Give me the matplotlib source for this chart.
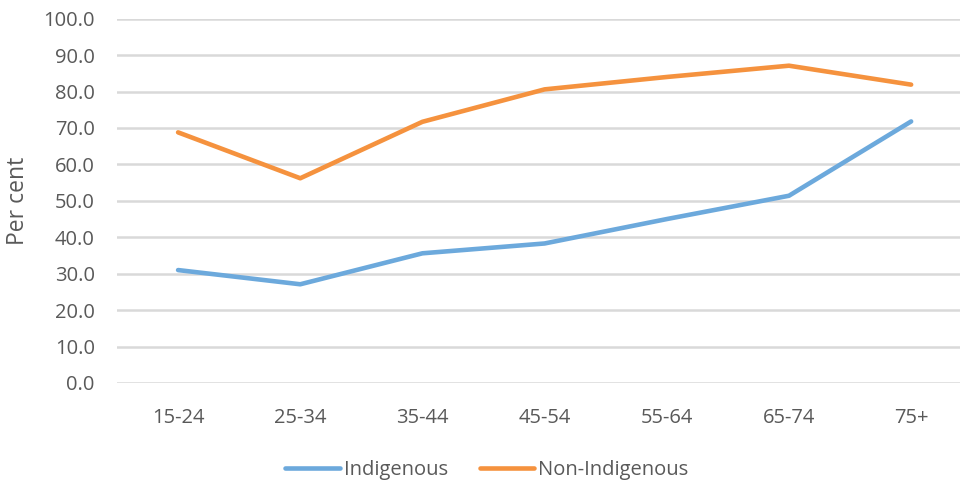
import matplotlib
matplotlib.use("Agg")
import matplotlib.pyplot as plt

age_groups = ["15-24", "25-34", "35-44", "45-54", "55-64", "65-74", "75+"]
indigenous = [31.0, 27.1, 35.6, 38.3, 45.0, 51.4, 71.8]
non_indigenous = [68.8, 56.2, 71.7, 80.6, 84.0, 87.1, 81.9]
y_ticks = [0, 10, 20, 30, 40, 50, 60, 70, 80, 90, 100]

BLUE = "#6CA9DC"
ORANGE = "#F5923E"
TEXT = "#595959"
GRID = "#D9D9D9"

plt.rcParams["font.family"] = ["Open Sans", "DejaVu Sans"]

fig = plt.figure(figsize=(9.6, 4.84), dpi=100)
ax = fig.add_axes([117 / 960, 1 - 383 / 484, 1 - 117 / 960, (383 - 18.7) / 484])

x = list(range(len(age_groups)))
ax.plot(x, indigenous, color=BLUE, lw=3.3, label="Indigenous",
        solid_capstyle="round", solid_joinstyle="round", clip_on=False, zorder=3)
ax.plot(x, non_indigenous, color=ORANGE, lw=3.3, label="Non-Indigenous",
        solid_capstyle="round", solid_joinstyle="round", clip_on=False, zorder=3)

ax.set_xlim(-0.5, 6.4)
ax.set_ylim(0, 100)
ax.set_yticks(y_ticks)
ax.set_yticklabels([f"{v:.1f}" for v in y_ticks])
ax.set_xticks(x)
ax.set_xticklabels(age_groups)

ax.grid(axis="y", color=GRID, lw=1.8, zorder=0)
ax.set_axisbelow(True)
for s in ax.spines.values():
    s.set_visible(False)
ax.tick_params(axis="both", length=0, colors=TEXT, labelsize=14.5)
ax.tick_params(axis="y", pad=16)
ax.tick_params(axis="x", pad=18)

ax.set_ylabel("Per cent", color=TEXT, fontsize=16.5)
ax.yaxis.set_label_coords(-87 / 843, 0.5)

leg = fig.legend(loc="center", bbox_to_anchor=(487 / 960, 1 - 470 / 484), ncol=2,
                 frameon=False, fontsize=14.5, handlelength=2.7, handletextpad=0.2,
                 columnspacing=1.6)
for t in leg.get_texts():
    t.set_color(TEXT)
for h in leg.get_lines():
    h.set_linewidth(3.3)
    h.set_solid_capstyle("round")

fig.savefig("out.png", dpi=100)
